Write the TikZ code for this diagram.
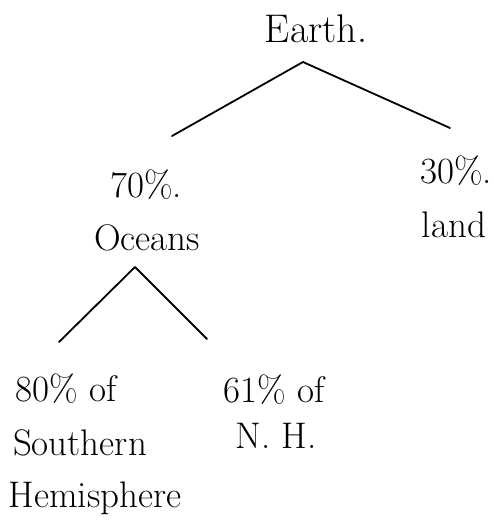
\documentclass[tikz,border=0pt]{standalone}
\begin{document}
\begin{tikzpicture}[x=1pt,y=-1pt,
  lbl/.style={anchor=base,inner sep=0pt,font=\fontsize{37}{44}\selectfont},
  branch/.style={line width=1.8pt,line cap=round,line join=round}]
\useasboundingbox[fill=white] (0,0) rectangle (493,524);
% texts
\node[lbl,font=\fontsize{40}{48}\selectfont] (earth) at (316,43) {Earth.};
\node[lbl] (p70) at (146,197) {70\%.};
\node[lbl] (oceans) at (147,250) {Oceans};
\node[lbl] (p30) at (456,183) {30\%.};
\node[lbl] (land) at (454,237) {land};
\node[lbl] (p80) at (66,401) {80\% of};
\node[lbl] (south) at (80,455) {Southern};
\node[lbl] (hemi) at (95,507) {Hemisphere};
\node[lbl] (p61) at (274,402) {61\% of};
\node[lbl] (nh) at (276,448) {N. H.};
% connector ends
\coordinate (earth-fork) at (303,62);
\coordinate (oceans-top) at (172,136);
\coordinate (land-top) at (450,128);
\coordinate (oceans-fork) at (135,267);
\coordinate (south-top) at (59,342);
\coordinate (nh-top) at (207,339);
\draw[branch] (oceans-top) -- (earth-fork) -- (land-top);
\draw[branch] (south-top) -- (oceans-fork) -- (nh-top);
\end{tikzpicture}
\end{document}
